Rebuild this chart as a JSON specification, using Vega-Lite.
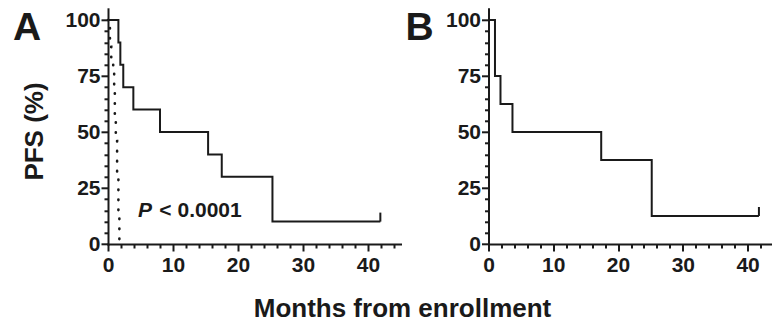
{
  "$schema": "https://vega.github.io/schema/vega-lite/v6.json",
  "autosize": {"type": "none"},
  "padding": {"left": 108, "top": 8.8, "right": 664, "bottom": 80},
  "background": "white",
  "bounds": "flush",
  "spacing": 87.5,
  "config": {
    "view": {"stroke": null},
    "font": "Liberation Sans",
    "axis": {
      "grid": false,
      "labelFlush": false,
      "labelOverlap": false,
      "domainColor": "#1a1a1a",
      "domainWidth": 2,
      "domainCap": "square",
      "tickColor": "#1a1a1a",
      "tickWidth": 2,
      "labelColor": "#1a1a1a",
      "labelFont": "Liberation Sans",
      "labelFontWeight": "bold",
      "labelFontSize": 21,
      "titleColor": "#1a1a1a",
      "titleFont": "Liberation Sans",
      "titleFontWeight": "bold",
      "titleFontSize": 26
    }
  },
  "datasets": {
    "a_treated": [
      {"t": 0, "s": 100}, {"t": 1.6, "s": 90}, {"t": 1.9, "s": 80}, {"t": 2.35, "s": 70},
      {"t": 3.9, "s": 60}, {"t": 8.0, "s": 50}, {"t": 15.4, "s": 40}, {"t": 17.5, "s": 30},
      {"t": 25.3, "s": 10}, {"t": 41.9, "s": 10}
    ],
    "a_control": [
      {"t": 0, "s": 100}, {"t": 0.3, "s": 88}, {"t": 0.5, "s": 83}, {"t": 0.8, "s": 76},
      {"t": 0.95, "s": 68}, {"t": 1.05, "s": 57}, {"t": 1.2, "s": 46}, {"t": 1.4, "s": 30},
      {"t": 1.6, "s": 14}, {"t": 1.75, "s": 0}
    ],
    "a_censor": [{"t": 41.9, "s": 10}],
    "b_curve": [
      {"t": 0, "s": 100}, {"t": 1.0, "s": 75}, {"t": 1.85, "s": 62.5}, {"t": 3.7, "s": 50},
      {"t": 17.4, "s": 37.5}, {"t": 25.2, "s": 12.5}, {"t": 41.75, "s": 12.5}
    ],
    "b_censor": [{"t": 41.75, "s": 12.5}]
  },
  "hconcat": [
    {
      "width": 292.5,
      "height": 235.2,
      "resolve": {"axis": {"x": "independent", "y": "independent"}},
      "layer": [
        {
          "data": {"name": "a_treated"},
          "mark": {"type": "line", "interpolate": "step-after", "color": "#1a1a1a", "strokeWidth": 2},
          "encoding": {
            "x": {"field": "t", "type": "quantitative", "scale": {"domain": [0, 45], "nice": false, "zero": false},
                  "axis": {"orient": "bottom", "values": [0, 10, 20, 30, 40], "tickSize": 7, "labelPadding": 3,
                           "title": "Months from enrollment", "titleX": 294, "titleY": 72, "titleBaseline": "alphabetic", "titleAlign": "center"}},
            "y": {"field": "s", "type": "quantitative", "scale": {"domain": [0, 105], "nice": false, "zero": false},
                  "axis": {"orient": "left", "values": [0, 25, 50, 75, 100], "tickSize": 7, "labelPadding": 1,
                           "title": "PFS (%)", "titleX": -65.5, "titleY": 122.2, "titleAngle": -90, "titleBaseline": "alphabetic", "titleAlign": "center"}}
          }
        },
        {
          "data": {"name": "a_treated"},
          "mark": {"type": "point", "opacity": 0},
          "encoding": {
            "x": {"field": "t", "type": "quantitative",
                  "axis": {"orient": "bottom", "values": [2, 4, 6, 8, 12, 14, 16, 18, 22, 24, 26, 28, 32, 34, 36, 38, 42, 44], "tickSize": 4, "labels": false, "domain": false, "title": null}},
            "y": {"field": "s", "type": "quantitative",
                  "axis": {"orient": "left", "values": [5, 10, 15, 20, 30, 35, 40, 45, 55, 60, 65, 70, 80, 85, 90, 95], "tickSize": 4, "labels": false, "domain": false, "title": null}}
          }
        },
        {
          "data": {"name": "a_control"},
          "mark": {"type": "line", "interpolate": "step-after", "color": "#1a1a1a", "strokeWidth": 2.6, "strokeDash": [0.5, 9.5], "strokeCap": "round"},
          "encoding": {
            "x": {"field": "t", "type": "quantitative", "axis": null},
            "y": {"field": "s", "type": "quantitative", "axis": null}
          }
        },
        {
          "data": {"name": "a_censor"},
          "mark": {"type": "rule", "color": "#1a1a1a", "strokeWidth": 2, "y2Offset": -9},
          "encoding": {
            "x": {"field": "t", "type": "quantitative", "axis": null},
            "y": {"field": "s", "type": "quantitative", "axis": null},
            "y2": {"field": "s"}
          }
        },
        {
          "data": {"values": [{}]},
          "mark": {"type": "text", "text": "P", "fontStyle": "italic", "fontWeight": "bold", "fontSize": 21, "align": "left", "baseline": "alphabetic", "color": "#1a1a1a", "font": "Liberation Sans"},
          "encoding": {
            "x": {"datum": 4.6, "type": "quantitative", "axis": null},
            "y": {"datum": 12, "type": "quantitative", "axis": null}
          }
        },
        {
          "data": {"values": [{}]},
          "mark": {"type": "text", "text": "< 0.0001", "fontWeight": "bold", "fontSize": 21, "align": "left", "baseline": "alphabetic", "color": "#1a1a1a", "font": "Liberation Sans"},
          "encoding": {
            "x": {"datum": 7.9, "type": "quantitative", "axis": null},
            "y": {"datum": 12, "type": "quantitative", "axis": null}
          }
        },
        {
          "data": {"values": [{}]},
          "mark": {"type": "text", "text": "A", "fontWeight": "bold", "fontSize": 39, "align": "left", "baseline": "alphabetic", "color": "#1a1a1a", "font": "Liberation Sans"},
          "encoding": {
            "x": {"datum": -14.6, "type": "quantitative", "axis": null},
            "y": {"datum": 91, "type": "quantitative", "axis": null}
          }
        }
      ]
    },
    {
      "width": 285,
      "height": 235.2,
      "resolve": {"axis": {"x": "independent", "y": "independent"}},
      "layer": [
        {
          "data": {"name": "b_curve"},
          "mark": {"type": "line", "interpolate": "step-after", "color": "#1a1a1a", "strokeWidth": 2},
          "encoding": {
            "x": {"field": "t", "type": "quantitative", "scale": {"domain": [0, 44], "nice": false, "zero": false},
                  "axis": {"orient": "bottom", "values": [0, 10, 20, 30, 40], "tickSize": 7, "labelPadding": 3, "title": null}},
            "y": {"field": "s", "type": "quantitative", "scale": {"domain": [0, 105], "nice": false, "zero": false},
                  "axis": {"orient": "left", "values": [0, 25, 50, 75, 100], "tickSize": 7, "labelPadding": 1, "title": null}}
          }
        },
        {
          "data": {"name": "b_curve"},
          "mark": {"type": "point", "opacity": 0},
          "encoding": {
            "x": {"field": "t", "type": "quantitative",
                  "axis": {"orient": "bottom", "values": [2, 4, 6, 8, 12, 14, 16, 18, 22, 24, 26, 28, 32, 34, 36, 38, 42, 44], "tickSize": 4, "labels": false, "domain": false, "title": null}},
            "y": {"field": "s", "type": "quantitative",
                  "axis": {"orient": "left", "values": [5, 10, 15, 20, 30, 35, 40, 45, 55, 60, 65, 70, 80, 85, 90, 95], "tickSize": 4, "labels": false, "domain": false, "title": null}}
          }
        },
        {
          "data": {"name": "b_censor"},
          "mark": {"type": "rule", "color": "#1a1a1a", "strokeWidth": 2, "y2Offset": -9},
          "encoding": {
            "x": {"field": "t", "type": "quantitative", "axis": null},
            "y": {"field": "s", "type": "quantitative", "axis": null},
            "y2": {"field": "s"}
          }
        },
        {
          "data": {"values": [{}]},
          "mark": {"type": "text", "text": "B", "fontWeight": "bold", "fontSize": 39, "align": "left", "baseline": "alphabetic", "color": "#1a1a1a", "font": "Liberation Sans"},
          "encoding": {
            "x": {"datum": -12.8, "type": "quantitative", "axis": null},
            "y": {"datum": 91, "type": "quantitative", "axis": null}
          }
        }
      ]
    }
  ]
}
